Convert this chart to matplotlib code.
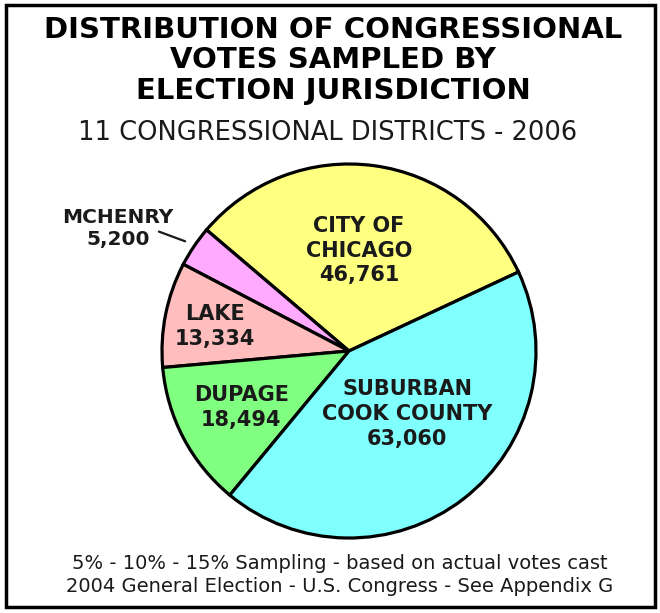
import numpy as np
import matplotlib
matplotlib.use("Agg")
import matplotlib.pyplot as plt
from matplotlib.patches import Rectangle

# data
names = ["CITY OF\nCHICAGO", "MCHENRY", "LAKE", "DUPAGE", "SUBURBAN\nCOOK COUNTY"]
votes = [46761, 5200, 13334, 18494, 63060]
colors = ["#FFFF80", "#FFAAFF", "#FFBDBD", "#80FF80", "#80FFFF"]

title = "DISTRIBUTION OF CONGRESSIONAL\nVOTES SAMPLED BY\nELECTION JURISDICTION"
subtitle = "11 CONGRESSIONAL DISTRICTS - 2006"
footer = ("5% - 10% - 15% Sampling - based on actual votes cast\n"
          "2004 General Election - U.S. Congress - See Appendix G")

# label placement (radius as fraction of pie radius, angle nudge in degrees)
label_r = [0.54, None, 0.73, 0.65, 0.46]
label_dt = [2, 0, 1, 0, 5]

W, H = 660, 613
fig = plt.figure(figsize=(W / 100, H / 100), dpi=100)

# frame round the whole picture
fig.patches.append(Rectangle((6 / W, 1 - 607 / H), 649 / W, 602 / H,
                             transform=fig.transFigure, fill=False,
                             ec="black", lw=2.5))

fig.text(0.505, 1 - 60.5 / H, title, ha="center", va="center",
         fontsize=21, fontweight="bold", linespacing=1.12)
fig.text(0.497, 1 - 133 / H, subtitle, ha="center", va="center",
         fontsize=18.5, color="#1a1a1a")
fig.text(0.515, 1 - 575 / H, footer, ha="center", va="center",
         fontsize=14, color="#1a1a1a", linespacing=1.3)

# pie centre at (350, 351) px, radius 187 px
cx, cy, R = 349, 351, 187
half = 200
ax = fig.add_axes([(cx - half) / W, (H - cy - half) / H, 2 * half / W, 2 * half / H])

wedges, _ = ax.pie(votes, colors=colors, startangle=25, counterclock=True,
                   radius=1, wedgeprops=dict(edgecolor="black", linewidth=2.3))
# pie() sets its own limits, so fix them afterwards
ax.set_xlim(-half / R, half / R)
ax.set_ylim(-half / R, half / R)
ax.set_aspect("equal")
ax.axis("off")

for i, w in enumerate(wedges):
    mid = np.deg2rad((w.theta1 + w.theta2) / 2 + label_dt[i])
    txt = "%s\n%s" % (names[i], format(votes[i], ","))
    if label_r[i] is None:
        # small slice: label outside with a leader line
        a_lab = mid + np.deg2rad(6)
        ax.text(1.40 * np.cos(a_lab), 1.40 * np.sin(a_lab), txt,
                ha="center", va="center", fontsize=14.5, fontweight="bold",
                color="#1a1a1a", linespacing=1.2)
        a0 = mid + np.deg2rad(2)
        ax.annotate("", xy=(1.04 * np.cos(mid), 1.04 * np.sin(mid)),
                    xytext=(1.215 * np.cos(a0), 1.215 * np.sin(a0)),
                    arrowprops=dict(arrowstyle="-", lw=1.6, color="#1a1a1a"))
        continue
    r = label_r[i]
    ax.text(r * np.cos(mid), r * np.sin(mid), txt, ha="center", va="center",
            fontsize=15, fontweight="bold", color="#1a1a1a", linespacing=1.3)

fig.savefig("out.png", dpi=100)
